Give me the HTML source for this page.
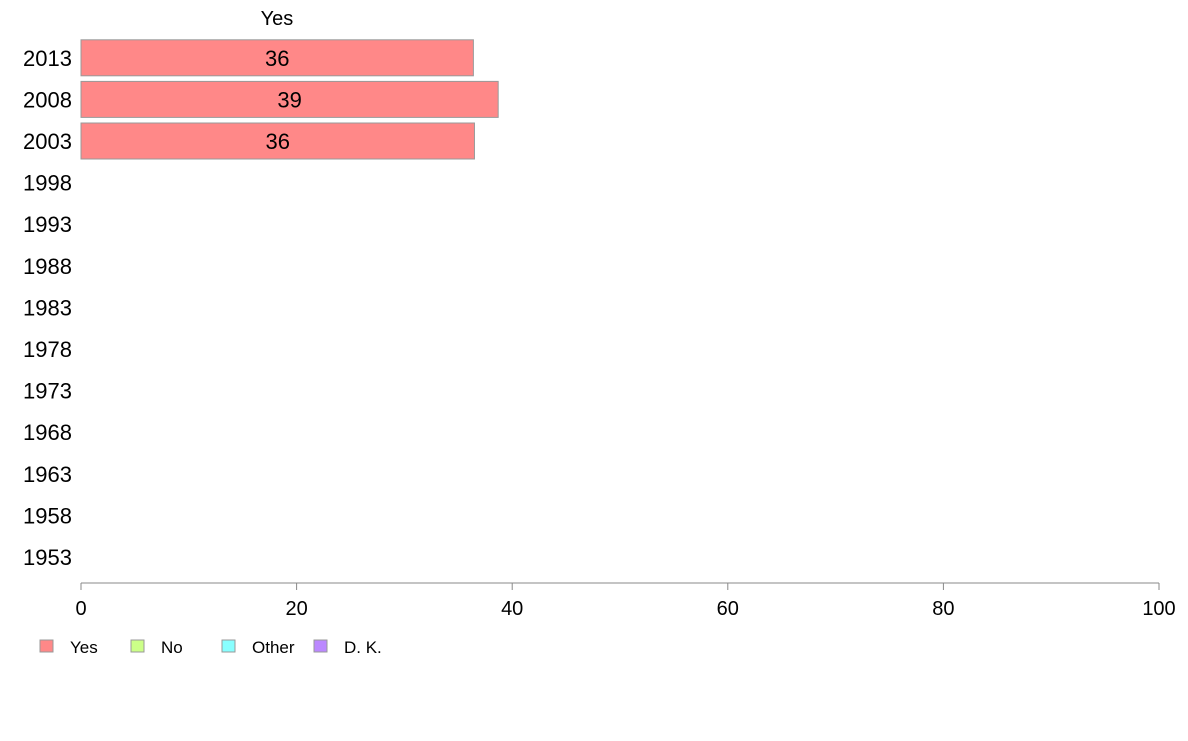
<!DOCTYPE html>
<html><head><meta charset="utf-8"><style>
body{margin:0;background:#fff;width:1188px;height:736px;overflow:hidden}
svg{font-family:"Liberation Sans",Arial,sans-serif}
</style></head><body>
<svg id="chart" width="1188" height="736" xmlns="http://www.w3.org/2000/svg">
<text x="277" y="25" font-size="20" text-anchor="middle">Yes</text>
<g id="ylab"></g><g id="bars"></g><g id="xaxis"></g><g id="legend"></g>
</svg>
<script>
const years=["1953","1958","1963","1968","1973","1978","1983","1988","1993","1998","2003","2008","2013"];
const yesVals=[null,null,null,null,null,null,null,null,null,null,36.5,38.7,36.4];
const yesLabels=["","","","","","","","","","","36","39","36"];
const xTicks=[0,20,40,60,80,100];
const legendLabels=["Yes","No","Other","D. K."];
const legendColors=["#ff8888","#ccff88","#88ffff","#bb88ff"];
const NS="http://www.w3.org/2000/svg";
const x=v=>81+v*10.78;
const y=i=>557-i*41.6;
function mk(t,a,p,txt){const e=document.createElementNS(NS,t);for(const k in a)e.setAttribute(k,a[k]);if(txt!==undefined)e.textContent=txt;p.appendChild(e);return e;}
const gy=document.getElementById('ylab'),gb=document.getElementById('bars'),gx=document.getElementById('xaxis'),gl=document.getElementById('legend');
years.forEach((yr,i)=>{
  const t=mk('text',{x:72,y:y(i)+8,'font-size':22,'text-anchor':'end'},gy,yr);
  
  
  const v=yesVals[i];
  if(v!=null){
    const r=mk('rect',{x:x(0),y:y(i)-18,width:x(v)-x(0),height:36,fill:'#ff8888',stroke:'#999','stroke-width':1},gb);
    
    
    const l=mk('text',{x:(x(0)+x(v))/2,y:y(i)+8,'font-size':22,'text-anchor':'middle'},gb,yesLabels[i]);
    
    
  }
});
const ax=mk('line',{x1:x(0),x2:x(100),y1:583,y2:583,stroke:'#888','stroke-width':1},gx);


xTicks.forEach(v=>{
  const tk=mk('line',{x1:x(v),x2:x(v),y1:583,y2:590,stroke:'#888'},gx);
  
  
  const tl=mk('text',{x:x(v),y:615,'font-size':20,'text-anchor':'middle'},gx,String(v));
  
  
});
const lx=[40,131,222,314];
legendLabels.forEach((s,i)=>{
  const r=mk('rect',{x:lx[i],y:640,width:13,height:12,fill:legendColors[i],stroke:'#999'},gl);
  
  
  const t=mk('text',{x:lx[i]+30,y:653,'font-size':17},gl,s);
  
  
});
</script>
</body></html>
